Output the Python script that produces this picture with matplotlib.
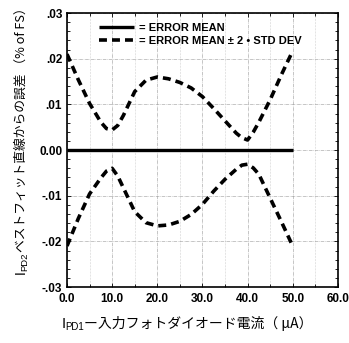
import matplotlib
matplotlib.use("Agg")
import matplotlib.pyplot as plt
from matplotlib.ticker import MultipleLocator, FixedFormatter, FixedLocator
from matplotlib.transforms import IdentityTransform

plt.rcParams['font.family'] = ['Liberation Sans', 'Noto Sans CJK JP', 'DejaVu Sans']

# photodiode current (uA) and error bands (% of FS)
current = [0, 2.5, 5, 7.5, 8.75, 10, 11.25, 12.5, 15, 17.5, 20, 22.5, 25, 27.5,
           30, 32.5, 35, 37.5, 38.75, 40, 41.25, 42.5, 45, 47.5, 50]
upper_band = [0.0210, 0.0154, 0.0102, 0.0061, 0.0047, 0.0044, 0.0054, 0.0076,
              0.0128, 0.0153, 0.0160, 0.0156, 0.0148, 0.0136, 0.0117, 0.0091,
              0.0064, 0.0037, 0.0027, 0.0022, 0.0039, 0.0061, 0.0110, 0.0165,
              0.0217]
lower_band = [-0.0210, -0.0150, -0.0096, -0.0061, -0.0046, -0.0040, -0.0057,
              -0.0083, -0.0135, -0.0159, -0.0166, -0.0164, -0.0156, -0.0141,
              -0.0119, -0.0090, -0.0064, -0.0042, -0.0033, -0.0031, -0.0039,
              -0.0053, -0.0105, -0.0157, -0.0210]
mean_x = [0, 50]
mean_y = [0, 0]

xticks = [0, 10, 20, 30, 40, 50, 60]
xtick_labels = ['0.0', '10.0', '20.0', '30.0', '40.0', '50.0', '60.0']
yticks = [-0.03, -0.02, -0.01, 0, 0.01, 0.02, 0.03]
ytick_labels = ['-.03', '-.02', '-.01', '0.00', '.01', '.02', '.03']

fig = plt.figure(figsize=(3.49, 3.43), dpi=100)
ax = fig.add_axes([0.192, 0.163, 0.776, 0.799])

ax.plot(mean_x, mean_y, color='black', lw=2.4, solid_capstyle='butt',
        label='= ERROR MEAN')
ax.plot(current, upper_band, color='black', lw=2.6, dashes=(2.2, 1.4),
        label='= ERROR MEAN \u00b1 2 \u2022 STD DEV')
ax.plot(current, lower_band, color='black', lw=2.6, dashes=(2.2, 1.4))

ax.set_xlim(0, 60)
ax.set_ylim(-0.03, 0.03)
ax.xaxis.set_major_locator(FixedLocator(xticks))
ax.xaxis.set_major_formatter(FixedFormatter(xtick_labels))
ax.yaxis.set_major_locator(FixedLocator(yticks))
ax.yaxis.set_major_formatter(FixedFormatter(ytick_labels))
ax.xaxis.set_minor_locator(MultipleLocator(5))
ax.yaxis.set_minor_locator(MultipleLocator(0.002))

ax.tick_params(which='both', direction='in', top=True, right=True,
               labelsize=8.5, length=3, width=0.6)
ax.tick_params(which='minor', length=2)
for lab in ax.get_xticklabels() + ax.get_yticklabels():
    lab.set_fontweight('bold')
ax.tick_params(axis='x', pad=4)

ax.grid(which='major', color='#999999', lw=0.4, ls='-.')
ax.grid(which='minor', axis='x', color='#aaaaaa', lw=0.4, ls=':')
for s in ax.spines.values():
    s.set_linewidth(1.2)

ax.legend(loc='upper left', bbox_to_anchor=(0.08, 1.0), frameon=False,
          handlelength=3.2, handletextpad=0.4, labelspacing=0.3,
          prop={'weight': 'bold', 'size': 8})


def text_run(pieces, center, base, vertical=False):
    # lay out text pieces one after another, centred on `center` (pixels)
    renderer = fig.canvas.get_renderer()
    items = []
    for s, size, drop, family in pieces:
        t = fig.text(0, 0, s, fontsize=size, family=family,
                     transform=IdentityTransform(), ha='left', va='baseline',
                     rotation_mode='anchor')
        items.append((t, t.get_window_extent(renderer).width, drop))
    total = sum(w for _, w, _ in items)
    pos = center - total / 2
    for t, w, drop in items:
        if vertical:
            t.set_rotation(90)
            t.set_position((base - drop, pos))
        else:
            t.set_position((pos, base - drop))
        pos += w


latin = ['Liberation Sans']
cjk = ['Noto Sans CJK JP', 'DejaVu Sans']
text_run([('I', 10.5, 0, latin), ('PD1', 7, 2.5, latin),
          ('ー入力フォトダイオード電流（ μA）', 10, 0, cjk)],
         center=187, base=15)
text_run([('I', 10, 0, latin), ('PD2', 6.8, -2.5, latin),
          ('ベストフィット直線からの誤差 （% of FS）', 9.2, 0, cjk)],
         center=205, base=25, vertical=True)

fig.savefig('out.png', dpi=100)
